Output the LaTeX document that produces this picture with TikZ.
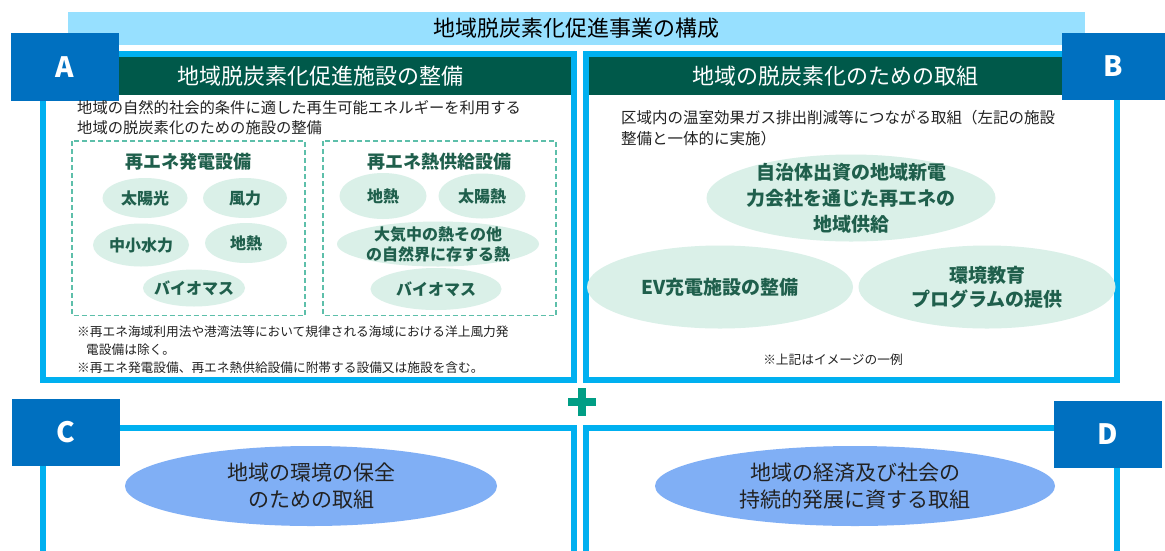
\documentclass[tikz,border=0pt]{standalone}
\usepackage{fontspec}
\setmainfont{Noto Sans CJK JP}
\usetikzlibrary{shapes.geometric}
\definecolor{bannerbg}{HTML}{97E0FF}
\definecolor{framecyan}{HTML}{00B0F0}
\definecolor{letterbg}{HTML}{0070C0}
\definecolor{headgreen}{HTML}{00594A}
\definecolor{ellgreen}{HTML}{DAF0E8}
\definecolor{elltext}{HTML}{1F5F4C}
\definecolor{dashcol}{HTML}{5DBFAA}
\definecolor{blueell}{HTML}{80AFF5}
\definecolor{plusgreen}{HTML}{009E85}
\definecolor{bodytext}{HTML}{222222}
\tikzset{
  frame/.style={draw=framecyan, line width=6pt},
  header/.style={fill=headgreen, draw=none},
  headtext/.style={text=white, font=\fontsize{22}{24}\selectfont, inner sep=0pt},
  letterbox/.style={fill=letterbg, draw=none, inner sep=0pt, text=white, font=\fontsize{28}{30}\selectfont\bfseries},
  desc/.style={text=bodytext, font=\fontsize{15.3}{20}\selectfont, align=left, inner sep=0pt},
  note/.style={text=bodytext, font=\fontsize{12.7}{18}\selectfont, align=left, inner sep=0pt},
  dashbox/.style={draw=dashcol, line width=1.3pt, dash pattern=on 5pt off 3pt},
  grouptitle/.style={text=elltext, font=\fontsize{18}{22}\selectfont\bfseries, inner sep=0pt},
  gell/.style={ellipse, fill=ellgreen, draw=none, inner sep=0pt},
  gtxt/.style={text=elltext, font=\fontsize{16}{20}\selectfont\bfseries, align=center, inner sep=0pt},
  btxt/.style={text=elltext, font=\fontsize{19}{26}\selectfont\bfseries, align=center, inner sep=0pt},
  bell/.style={ellipse, fill=blueell, draw=none, inner sep=0pt},
  cdtxt/.style={text=bodytext, font=\fontsize{21}{27}\selectfont, align=center, inner sep=0pt}
}
\begin{document}
\begin{tikzpicture}[x=1pt,y=-1pt]
\useasboundingbox (0,0) rectangle (1165,550);
\fill[white] (0,0) rectangle (1165,550);
% banner
\node[fill=bannerbg, minimum width=1017pt, minimum height=33pt, inner sep=0pt, anchor=north west] (banner) at (68,12) {};
\node[text=black, font=\fontsize{22}{24}\selectfont, inner sep=0pt] (bannertext) at (576,28) {地域脱炭素化促進事業の構成};
% frames A and B
\draw[frame] (43,53.5) rectangle (574,380);
\draw[frame] (585.5,53.5) rectangle (1117,380);
% headers
\fill[header] (46.5,57) rectangle (570.5,95);
\fill[header] (588.5,57) rectangle (1114,95);
\node[headtext] (headA) at (320,76) {地域脱炭素化促進施設の整備};
\node[headtext] (headB) at (835,76) {地域の脱炭素化のための取組};
% frames C and D (open at bottom)
\draw[frame] (43,552) -- (43,428) -- (574,428) -- (574,552);
\draw[frame] (585.5,552) -- (585.5,428) -- (1117,428) -- (1117,552);
% letter boxes
\node[letterbox, minimum width=108pt, minimum height=68pt] (boxA) at (65,67) {A};
\node[letterbox, minimum width=103pt, minimum height=67pt] (boxB) at (1113.5,66) {B};
\node[letterbox, minimum width=108pt, minimum height=67pt] (boxC) at (66,432.5) {C};
\node[letterbox, minimum width=108pt, minimum height=67pt] (boxD) at (1108,434) {D};
% A description
\node[desc, anchor=west] (descA) at (77,118) {地域の自然的社会的条件に適した再生可能エネルギーを利用する\\地域の脱炭素化のための施設の整備};
% dashed group boxes
\draw[dashbox] (72,141) rectangle (305,315.5);
\draw[dashbox] (323,141) rectangle (556,315.5);
\node[grouptitle] (titleL) at (188,162) {再エネ発電設備};
\node[grouptitle] (titleR) at (439,162) {再エネ熱供給設備};
% left group ellipses
\node[gell, minimum width=85pt, minimum height=40pt] (e1) at (145,198) {};
\node[gtxt] at (e1) {太陽光};
\node[gell, minimum width=84pt, minimum height=40pt] (e2) at (245,198) {};
\node[gtxt] at (e2) {風力};
\node[gell, minimum width=96pt, minimum height=43pt] (e3) at (141,245) {};
\node[gtxt] at (e3) {中小水力};
\node[gell, minimum width=82pt, minimum height=40pt] (e4) at (246,243) {};
\node[gtxt] at (e4) {地熱};
\node[gell, minimum width=102pt, minimum height=37pt] (e5) at (194,288) {};
\node[gtxt] at (e5) {バイオマス};
% right group ellipses
\node[gell, minimum width=87pt, minimum height=46pt] (f1) at (383,196) {};
\node[gtxt] at (f1) {地熱};
\node[gell, minimum width=87pt, minimum height=45pt] (f2) at (482,196) {};
\node[gtxt] at (f2) {太陽熱};
\node[gell, minimum width=202pt, minimum height=45pt] (f3) at (438,244) {};
\node[gtxt] at (f3) {大気中の熱その他\\の自然界に存する熱};
\node[gell, minimum width=131pt, minimum height=42pt] (f4) at (436,289) {};
\node[gtxt] at (f4) {バイオマス};
% A notes
\node[note, anchor=west] (n1) at (77,332) {※再エネ海域利用法や港湾法等において規律される海域における洋上風力発};
\node[note, anchor=west] (n2) at (86,350) {電設備は除く。};
\node[note, anchor=west] (n3) at (77,368) {※再エネ発電設備、再エネ熱供給設備に附帯する設備又は施設を含む。};
% B description
\node[desc, anchor=west, font=\fontsize{15.5}{21}\selectfont] (descB) at (621,128.5) {区域内の温室効果ガス排出削減等につながる取組（左記の施設\\整備と一体的に実施）};
% B ellipses
\node[gell, minimum width=289pt, minimum height=87pt] (g1) at (851,198) {};
\node[btxt] at (g1) {自治体出資の地域新電\\力会社を通じた再エネの\\地域供給};
\node[gell, minimum width=266pt, minimum height=83pt] (g2) at (720,287) {};
\node[btxt] at (g2) {EV充電施設の整備};
\node[gell, minimum width=257pt, minimum height=83pt] (g3) at (987,287) {};
\node[btxt, font=\fontsize{19}{24}\selectfont\bfseries] at (g3) {環境教育\\プログラムの提供};
\node[note] (noteB) at (833,360) {※上記はイメージの一例};
% plus sign
\fill[plusgreen] (568,398) rectangle (596,406);
\fill[plusgreen] (578,388) rectangle (586,416);
% C and D ellipses
\node[bell, minimum width=372pt, minimum height=80pt] (cell) at (311,486) {};
\node[cdtxt] at (cell) {地域の環境の保全\\のための取組};
\node[bell, minimum width=400pt, minimum height=80pt] (dell) at (855,486) {};
\node[cdtxt] at (dell) {地域の経済及び社会の\\持続的発展に資する取組};
\end{tikzpicture}
\end{document}
